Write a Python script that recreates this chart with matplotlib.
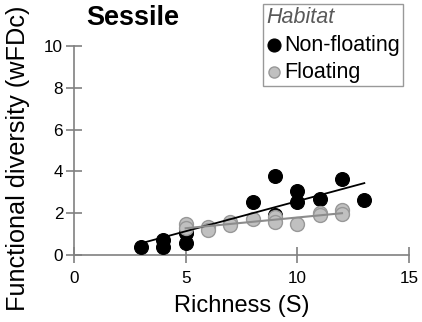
import matplotlib
matplotlib.use("Agg")
import matplotlib.pyplot as plt

plt.rcParams['font.family'] = ['Liberation Sans', 'DejaVu Sans']

# black points: non-floating
nonfloat_x = [3, 4, 4, 5, 5, 5, 8, 9, 9, 10, 10, 11, 12, 13]
nonfloat_y = [0.40, 0.72, 0.38, 1.10, 1.05, 0.57, 2.55, 3.78, 1.90, 3.08, 2.55, 2.68, 3.63, 2.63]
# grey points: floating
float_x = [5, 5, 6, 6, 7, 7, 8, 9, 9, 10, 11, 11, 12, 12]
float_y = [1.48, 1.30, 1.34, 1.20, 1.60, 1.45, 1.72, 1.82, 1.60, 1.48, 2.02, 1.93, 2.15, 1.95]
# fitted lines (end points)
nonfloat_fit_x = [3, 13]
nonfloat_fit_y = [0.56, 3.44]
float_fit_x = [5, 12]
float_fit_y = [1.28, 2.00]

xticks = [0, 5, 10, 15]
yticks = [0, 2, 4, 6, 8, 10]

fig = plt.figure(figsize=(4.22, 3.22), dpi=100)
ax = fig.add_axes([74/422, 1 - 255/322, (409-74)/422, (255-46)/322])

ax.scatter(nonfloat_x, nonfloat_y, s=100, c='black', edgecolors='black', linewidths=0.8,
           zorder=3, label='Non-floating', clip_on=False)
ax.scatter(float_x, float_y, s=100, c='#c0c0c0', edgecolors='#989898', linewidths=1.0,
           zorder=4, label='Floating', clip_on=False)
ax.plot(nonfloat_fit_x, nonfloat_fit_y, color='black', lw=1.3, zorder=5)
ax.plot(float_fit_x, float_fit_y, color='#8c8c8c', lw=1.5, zorder=5)

ax.set_xlim(0, 15)
ax.set_ylim(0, 10)
ax.set_xticks(xticks)
ax.set_yticks(yticks)

for s in ['top', 'right']:
    ax.spines[s].set_visible(False)
for s in ['left', 'bottom']:
    ax.spines[s].set_color('#808080')
    ax.spines[s].set_linewidth(1.2)
ax.tick_params(direction='inout', length=11.5, width=1.2, color='#808080',
               labelsize=12.3, pad=2)
ax.tick_params(axis='x', pad=6)

ax.set_xlabel('Richness (S)', fontsize=17, labelpad=6.5)
ax.set_ylabel('Functional diversity (wFDc)', fontsize=18.2)
ax.yaxis.set_label_coords(-0.13, 0.465)
fig.text(133/422, 1 - 18/322, 'Sessile', fontsize=19.5, fontweight='bold',
         ha='center', va='center')

leg = ax.legend(loc='upper left', bbox_to_anchor=(263/422, 1 - 4/322),
                bbox_transform=fig.transFigure, frameon=True, fancybox=False,
                edgecolor='#808080', fontsize=15.5, title='Habitat',
                handlelength=0.7, handletextpad=0.12, borderpad=0.15,
                labelspacing=0.3, borderaxespad=0, alignment='left')
leg.get_frame().set_linewidth(1.0)
leg.get_title().set_fontsize(15.5)
leg.get_title().set_fontstyle('italic')
leg.get_title().set_color('#595959')
leg.legend_handles[0].set_sizes([88])
leg.legend_handles[1].set_sizes([64])

fig.savefig('out.png', dpi=100)
